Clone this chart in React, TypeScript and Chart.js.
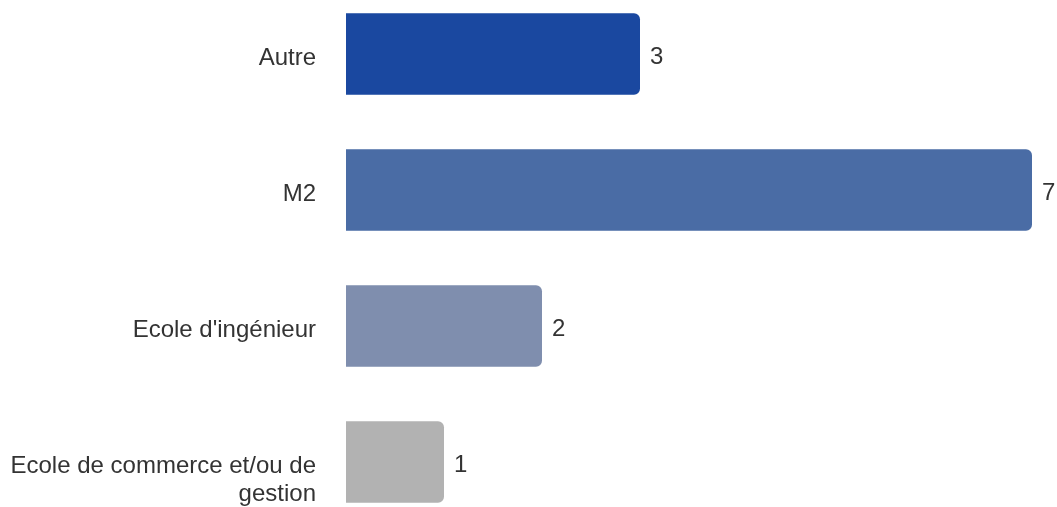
import React, { useEffect, useRef } from "react";
import { Chart, registerables } from "chart.js";

Chart.register(...registerables);

const categories: (string | string[])[] = [
  "Autre",
  "M2",
  "Ecole d'ingénieur",
  ["Ecole de commerce et/ou de", "gestion"],
];
const values: number[] = [3, 7, 2, 1];
const barColors: string[] = ["#1a48a0", "#4a6ca5", "#7f8eae", "#b2b2b2"];

const FONT = "24px 'Liberation Sans', Arial, sans-serif";
const TEXT = "#333333";

const labelPlugin = {
  id: "customLabels",
  afterDatasetsDraw(chart: any) {
    const ctx = chart.ctx;
    const meta = chart.getDatasetMeta(0);
    const yScale = chart.scales.y;
    ctx.save();
    ctx.font = FONT;
    ctx.fillStyle = TEXT;
    ctx.textBaseline = "middle";
    meta.data.forEach((bar: any, i: number) => {
      ctx.textAlign = "left";
      ctx.fillText(String(values[i]), bar.x + 10, bar.y + 3);
      const cat = categories[i];
      const lines = Array.isArray(cat) ? cat : [cat];
      const yc = yScale.getPixelForValue(i);
      ctx.textAlign = "right";
      lines.forEach((ln, j) => {
        ctx.fillText(ln, chart.chartArea.left - 30, yc + 4 + j * 28);
      });
    });
    ctx.restore();
  },
};

export default function App() {
  const ref = useRef<HTMLCanvasElement | null>(null);
  useEffect(() => {
    if (!ref.current) return;
    const chart = new Chart(ref.current, {
      type: "bar",
      data: {
        labels: categories as any,
        datasets: [
          {
            data: values,
            backgroundColor: barColors,
            borderRadius: 6,
            borderSkipped: "start",
            barPercentage: 0.6,
            categoryPercentage: 1,
          },
        ],
      },
      options: {
        indexAxis: "y",
        animation: false,
        responsive: true,
        maintainAspectRatio: false,
        layout: { padding: { left: 0, right: 25, top: 0, bottom: 0 } },
        plugins: { legend: { display: false }, tooltip: { enabled: false } },
        scales: {
          x: { display: false, min: 0, max: 7 },
          y: {
            ticks: { display: false },
            grid: { display: false },
            border: { display: false },
            afterFit: (scale: any) => {
              scale.width = 346;
            },
          },
        },
      },
      plugins: [labelPlugin],
    });
    return () => chart.destroy();
  }, []);
  return (
    <div
      style={{
        position: "fixed",
        top: -14,
        left: 0,
        width: 1057,
        height: 544,
      }}
    >
      <canvas ref={ref} />
    </div>
  );
}
